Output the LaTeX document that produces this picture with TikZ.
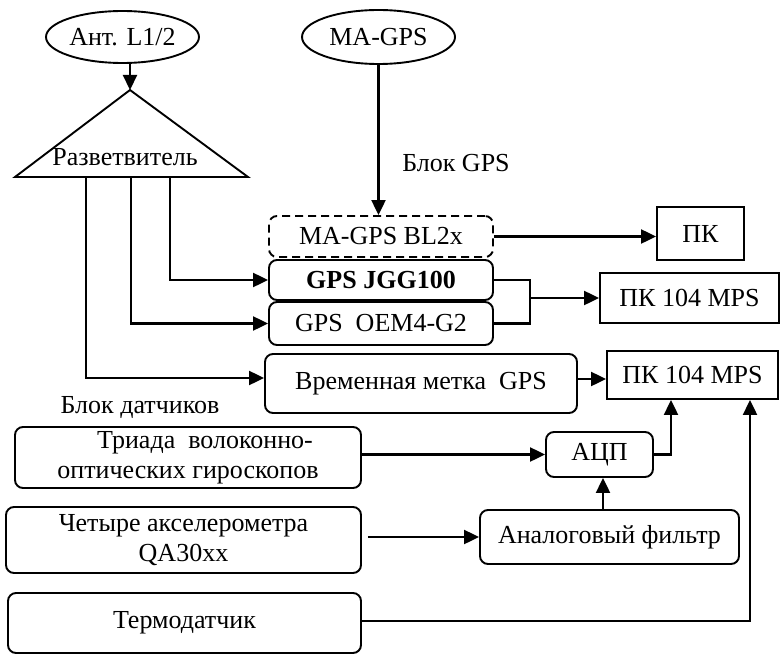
\documentclass[tikz,border=0pt]{standalone}
\usepackage{fontspec}
\setmainfont{Liberation Serif}
\usetikzlibrary{arrows.meta,shapes.geometric,calc}
\begin{document}
\begin{tikzpicture}[x=1pt,y=-1pt,
  every node/.style={font=\fontsize{26}{30}\selectfont, inner sep=0pt},
  oval/.style={ellipse, draw, line width=1.9pt, minimum width=153pt, minimum height=52pt},
  rbox/.style={draw, line width=1.9pt, rounded corners=8pt, align=center},
  dbox/.style={rbox, dash pattern=on 8pt off 5pt},
  sbox/.style={draw, line width=1.9pt, align=center},
  link/.style={line width=2.2pt},
  arr/.style={link, -{Triangle[length=15pt,width=14pt]}}
]
\useasboundingbox (0,0) rectangle (783,655);

% sources
\node[oval] (ant) at (122.5,37) {Ант. L1/2};
\node[oval, minimum height=54pt] (ma) at (378.5,37) {MA-GPS};

% splitter
\coordinate (apex) at (130,90);
\coordinate (bl) at (15,177);
\coordinate (br) at (248,177);
\draw[line width=1.9pt, line join=miter] (apex) -- (br) -- (bl) -- cycle;
\node (spltxt) at (125,157) {Разветвитель};
\coordinate (s1) at (86,177);
\coordinate (s2) at (131,177);
\coordinate (s3) at (170,177);

% GPS block
\node (gpslbl) at (456,163) {Блок GPS};
\node[dbox, minimum width=224pt, minimum height=41pt] (bl2x) at (381,236.5) {MA-GPS BL2x};
\node[rbox, minimum width=224pt, minimum height=40pt, font=\fontsize{26}{30}\selectfont\bfseries] (jgg) at (381,280) {GPS JGG100};
\node[rbox, minimum width=224pt, minimum height=43pt] (oem) at (381,323.5) {GPS\ \ OEM4-G2};
\node[rbox, minimum width=312pt, minimum height=59pt] (vrem) at (421,383.5) {Временная метка\ \ GPS};

% computers
\node[sbox, minimum width=87pt, minimum height=53pt] (pk1) at (700.5,233.5) {ПК};
\node[sbox, minimum width=179pt, minimum height=50pt] (pk2) at (689.5,298) {ПК 104 MPS};
\node[sbox, minimum width=171pt, minimum height=48pt] (pk3) at (692.5,375) {ПК 104 MPS};

% sensor block
\node (senslbl) at (140,407) {Блок датчиков};
\node[rbox, minimum width=346pt, minimum height=61pt] (triada) at (188,457.5)
  {\hspace*{34pt}Триада\ \ волоконно-\\оптических гироскопов};
\node[rbox, minimum width=355pt, minimum height=66pt] (chet) at (183.5,540)
  {Четыре акселерометра\\QA30xx};
\node[rbox, minimum width=353pt, minimum height=60pt] (term) at (184.5,623) {Термодатчик};
\node[rbox, minimum width=107pt, minimum height=45pt] (adc) at (599.5,454.5) {АЦП};
\node[rbox, minimum width=259pt, minimum height=54pt] (filt) at (609.5,537) {Аналоговый фильтр};

% connectors: antennas
\draw[arr] (ant.south -| apex) -- (apex);
\draw[arr] (ma.south) -- (ma.south |- bl2x.north);

% splitter outputs
\draw[arr] (s3) |- (jgg.west);
\draw[arr] (s2) |- (oem.west);
\draw[arr] (s1) |- ([yshift=5.5pt]vrem.west);

% receivers to computers
\draw[arr] (bl2x.east) -- (bl2x.east -| pk1.west);
\coordinate (join) at (530,298);
\draw[link] (jgg.east) -| (join) |- (oem.east);
\draw[arr] (join) -- (pk2.west);
\coordinate (vout) at ($(vrem.east)+(0,-4.5)$);
\draw[arr] (vout) -- (vout -| pk3.west);

% sensors
\draw[arr] (triada.east |- adc.west) -- (adc.west);
\draw[arr] ([xshift=6pt]chet.east |- filt.west) -- (filt.west);
\draw[arr] ([xshift=3.5pt]adc.south |- filt.north) -- ([xshift=3.5pt]adc.south);
\coordinate (adcup) at (671,454.5);
\draw[arr] (adc.east) -- (adcup) -- (adcup |- pk3.south);
\coordinate (termup) at (750,621);
\draw[arr] (term.east |- termup) -- (termup) -- (termup |- pk3.south);
\end{tikzpicture}
\end{document}
